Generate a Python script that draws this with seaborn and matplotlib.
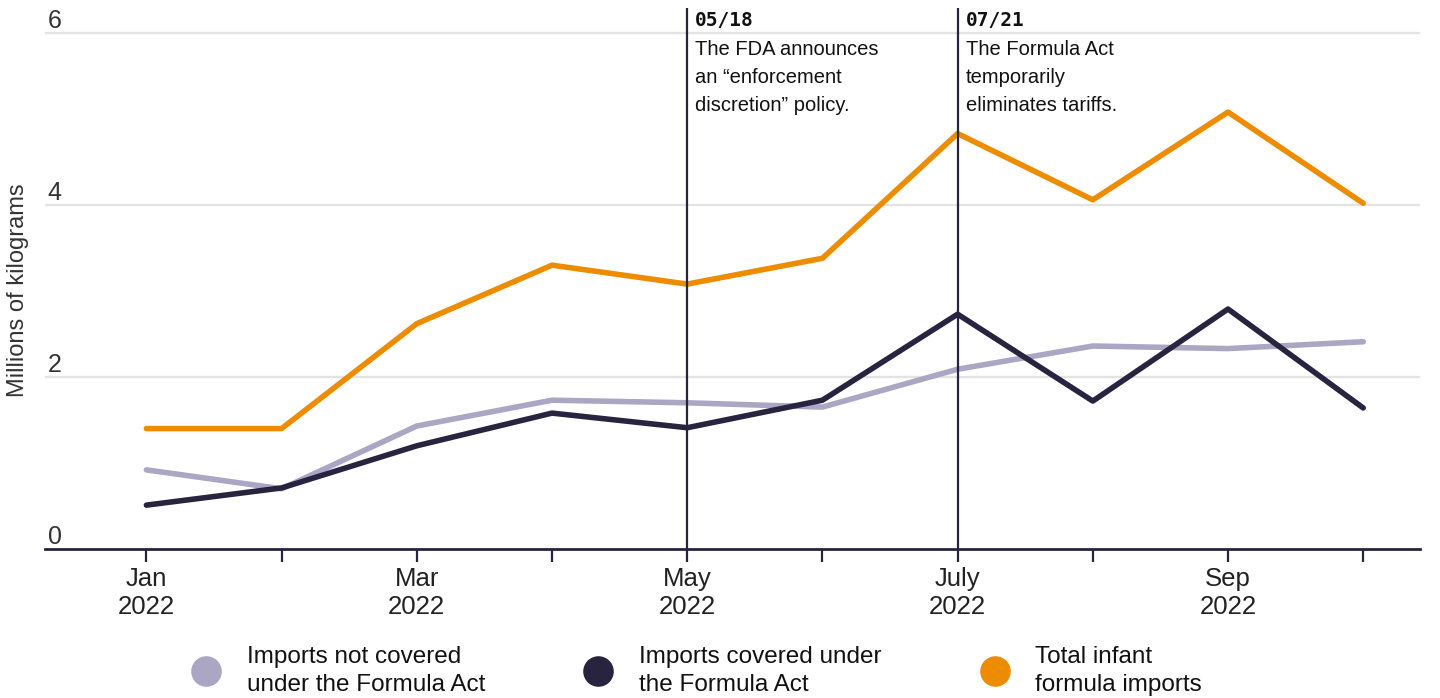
import matplotlib
matplotlib.use("Agg")
import matplotlib.pyplot as plt
import matplotlib.transforms as mtransforms
from matplotlib.lines import Line2D
import seaborn as sns
import pandas as pd
import numpy as np

months = ["Jan", "Feb", "Mar", "Apr", "May", "Jun", "July", "Aug", "Sep", "Oct"]
tick_labels = ["Jan\n2022", "", "Mar\n2022", "", "May\n2022", "", "July\n2022", "", "Sep\n2022", ""]
not_covered = [0.92, 0.70, 1.43, 1.73, 1.70, 1.65, 2.09, 2.36, 2.33, 2.41]
covered = [0.51, 0.71, 1.20, 1.58, 1.41, 1.73, 2.73, 1.72, 2.79, 1.64]
total = [1.40, 1.40, 2.62, 3.30, 3.08, 3.38, 4.83, 4.06, 5.08, 4.02]
series_names = ["Imports not covered\nunder the Formula Act",
                "Imports covered under\nthe Formula Act",
                "Total infant\nformula imports"]
colors = ["#aaa6c3", "#28233f", "#ee8c00"]
events_x = ["May", "July"]
events_date = ["05/18", "07/21"]
events_text = ["The FDA announces\nan \u201cenforcement\ndiscretion\u201d policy.",
               "The Formula Act\ntemporarily\neliminates tariffs."]
y_ticks = [0, 2, 4, 6]

sns.set_theme(style="white")
plt.rcParams['font.family'] = ['Liberation Sans', 'DejaVu Sans']

df = pd.DataFrame({
    "month": months * 3,
    "idx": list(range(len(months))) * 3,
    "value": not_covered + covered + total,
    "series": [series_names[0]] * len(months) + [series_names[1]] * len(months) + [series_names[2]] * len(months),
})

fig = plt.figure(figsize=(14.4, 6.98), dpi=100)
ax = fig.add_axes([45 / 1440, 1 - 549 / 698, (1420 - 45) / 1440, (549 - 8) / 698])

sns.lineplot(data=df, x="idx", y="value", hue="series", palette=colors,
             hue_order=series_names, linewidth=4, ax=ax, legend=False,
             sort=False)

ax.set_xlim(-0.75, 9.42)
ax.set_ylim(0, 6.29)

dark = "#28233f"
for y in y_ticks:
    if y > 0:
        ax.axhline(y, color="#e3e3e3", lw=1.6, zorder=0)
    ax.text(0.002, y, str(y), transform=mtransforms.blended_transform_factory(ax.transAxes, ax.transData),
            ha="left", va="bottom", fontsize=18, color="#333333")
ax.set_yticks([])
ax.set_xticks(range(len(months)))
ax.set_xticklabels(tick_labels, fontsize=18.5, color="#222222", linespacing=1.2)
ax.tick_params(axis="x", length=9, width=1.6, color=dark, pad=4, bottom=True, direction="out")

for s in ["top", "right", "left"]:
    ax.spines[s].set_visible(False)
ax.spines["bottom"].set_color(dark)
ax.spines["bottom"].set_linewidth(2)
ax.set_xlabel("")
ax.set_ylabel("")
fig.text(18 / 1440, 1 - 290 / 698, "Millions of kilograms", rotation=90, fontsize=17,
         color="#333333", ha="center", va="center")

for ex, d, t in zip(events_x, events_date, events_text):
    xi = months.index(ex)
    ax.axvline(xi, color=dark, lw=1.6, ymin=0, ymax=1, zorder=3)
    tr = mtransforms.offset_copy(mtransforms.blended_transform_factory(ax.transData, ax.transAxes),
                                 fig=fig, x=8, y=-3, units="dots")
    ax.text(xi, 1.0, d, transform=tr, ha="left", va="top", fontsize=14, fontweight="bold",
            family=['DejaVu Sans Mono'], color="#111111")
    tr2 = mtransforms.offset_copy(mtransforms.blended_transform_factory(ax.transData, ax.transAxes),
                                  fig=fig, x=8, y=-32, units="dots")
    ax.text(xi, 1.0, t, transform=tr2, ha="left", va="top", fontsize=14.5, color="#111111",
            linespacing=1.6)

handles = [Line2D([0], [0], marker="o", linestyle="", markersize=21, markerfacecolor=c,
                  markeredgecolor=c) for c in colors]
fig.legend(handles, series_names, loc="center", bbox_to_anchor=(0.4805, 1 - 671 / 698), ncol=3,
           frameon=False, fontsize=17.5, handletextpad=0.68, columnspacing=3.65,
           labelcolor="#111111", labelspacing=0.3)
for txt in fig.legends[0].get_texts():
    txt.set_linespacing(1.35)

fig.savefig("out.png", dpi=100)
